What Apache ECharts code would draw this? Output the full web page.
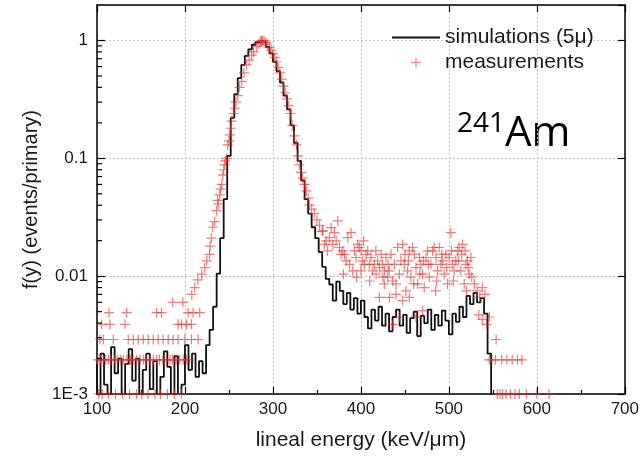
<!DOCTYPE html>
<html>
<head>
<meta charset="utf-8">
<script src="https://cdn.jsdelivr.net/npm/echarts@6/dist/echarts.min.js"></script>
<style>
html,body{margin:0;padding:0;background:#fff;}
#chart{width:642px;height:456px;}
</style>
</head>
<body>
<div id="chart"></div>
<script>
// ---- data ----
const xTicks = [100, 200, 300, 400, 500, 600, 700];
const yTickValues = [0.001, 0.01, 0.1, 1];
const yTickLabels = ['1E-3', '0.01', '0.1', '1'];
const yMinorTicks = [0.002,0.003,0.004,0.005,0.006,0.007,0.008,0.009,
                     0.02,0.03,0.04,0.05,0.06,0.07,0.08,0.09,
                     0.2,0.3,0.4,0.5,0.6,0.7,0.8,0.9];

// simulation histogram (bin start, value)
const simX = [100,104,108,112,116,120,124,128,132,136,140,144,148,152,156,160,164,168,172,176,180,184,188,192,196,200,204,208,212,216,220,
              224,228,232,236,240,244,248,252,256,260,264,268,272,276,280,284,288,292,296,300,304,308,312,316,320,324,328,332,336,340,344,348,352,356,360,364,
              368,372,376,380,384,388,392,396,400,404,408,412,416,420,424,428,432,436,440,444,448,452,456,460,464,468,472,476,480,484,488,492,496,500,504,508,512,516,520,524,528,532,536,540,544,548,552];
const simY = [0.0018,0.0005,0.0022,0.0012,0.0005,0.0025,0.0015,0.002,0.0008,0.0018,0.0024,0.0013,0.002,0.0005,0.0016,0.0022,0.0011,0.0019,0.0005,0.0014,0.0023,0.0017,0.0009,0.0021,0.0005,0.0012,0.0026,0.0016,0.0022,0.0014,0.0019,
              0.0015,0.0026,0.0035,0.0055,0.0105,0.021,0.045,0.105,0.22,0.35,0.48,0.62,0.74,0.84,0.92,0.97,0.99,0.96,0.88,0.78,0.66,0.55,0.44,0.34,0.26,0.19,0.135,0.095,0.065,0.045,0.034,0.026,0.021,0.016,0.012,0.0095,
              0.0085,0.0062,0.009,0.0075,0.0058,0.0072,0.0052,0.0065,0.0048,0.0062,0.0045,0.0036,0.0052,0.0042,0.0055,0.0038,0.0048,0.0034,0.0045,0.0052,0.0038,0.0047,0.0033,0.0044,0.005,0.0031,0.0046,0.004,0.0052,0.0035,0.0047,0.0038,0.0051,0.0042,0.0032,0.0048,0.0041,0.0055,0.0045,0.0068,0.0058,0.0072,0.006,0.0065,0.0048,0.0022,0.0005];

// measurements [x, y]
const measLow = [
  [102,0.001],[106,0.001],[113,0.001],[121,0.001],[129,0.001],[137,0.001],[145,0.001],[151,0.001],[158,0.001],[166,0.001],[172,0.001],[180,0.001],[188,0.001],[196,0.001],
  [101,0.00195],[104,0.00195],[107,0.00195],[110,0.00195],[113,0.00195],[116,0.00195],[120,0.00195],[123,0.00195],[127,0.00195],[130,0.00195],[134,0.00195],[138,0.00195],[141,0.00195],[145,0.00195],[149,0.00195],[153,0.00195],[156,0.00195],[160,0.00195],[164,0.00195],[168,0.00195],[171,0.00195],[175,0.00195],[179,0.00195],[183,0.00195],[186,0.00195],[190,0.00195],[194,0.00195],[198,0.00195],[202,0.00195],[205,0.00195],
  [103.4,0.0029],[107.1,0.0029],[118.5,0.0029],[135.5,0.0029],[141.2,0.0029],[146.8,0.0029],[152.5,0.0029],[158.2,0.0029],[163.9,0.0029],[169.5,0.0029],[175.2,0.0029],[180.9,0.0029],[186.5,0.0029],[192.2,0.0029],[199.8,0.0029],[207.4,0.0029],[214.9,0.0029],
  [105.3,0.0039],[114.7,0.0039],[131.8,0.0039],[192.2,0.0039],[196,0.0039],[201.7,0.0039],[207.4,0.0039],
  [113.6,0.0049],[133.7,0.0049],[167.7,0.0049],[173.4,0.0049],[203.6,0.0049],[209.3,0.0049],[216.8,0.0049],
  [186,0.006],[197.5,0.006]
];
const measPeak = [
  [207.7,0.007],[211,0.008],[214.6,0.0093],[219,0.0104],[222.5,0.0118],[224.8,0.0135],[228,0.0153],[228.5,0.018],[230,0.021],[231.6,0.026],[233.8,0.029],[236,0.036],[237,0.044],[238,0.041],[239.5,0.049],[240.5,0.055],[241.8,0.06],[243,0.072],[244,0.08],[245,0.088],[246,0.095],[247.5,0.1],[248.6,0.13],[250,0.14],[251,0.158],[252,0.18],[253,0.207],[255,0.24],[256.5,0.266],[258,0.3],[260,0.34],[262,0.4],[264.5,0.45],[267,0.53],[270,0.62],[273,0.68],[275.8,0.75],[278,0.8],[281.5,0.89],[284,0.94],[286,0.99],[287,0.98],[288,1.0],[290,0.99],[292,0.96],[294,0.92],[296,0.87],[298,0.82],[300,0.77],[302,0.72],[304,0.66],[306,0.59],[308,0.53],[310,0.47],[312,0.41],[314,0.36],[316,0.32],[318,0.28],[320,0.24],[322,0.19],[324.5,0.155],[326.8,0.13],[328.5,0.105],[330,0.088],[332,0.076],[333.6,0.068],[336,0.06],[338,0.053],[340,0.046],[341.6,0.04],[344,0.037],[347,0.034],[350,0.03],[353,0.027],[356,0.024]
];
const measPlateau = [
  [356.7,0.0242],[360.5,0.0199],[364.3,0.0212],[366.2,0.0258],[369.9,0.0234],[373.7,0.0294],[375.6,0.0175],[377.5,0.0153],[379.4,0.0164],[383.2,0.0135],[385.1,0.0212],[387,0.0126],[388.8,0.0234],[390.7,0.0111],[394.5,0.0144],[396.4,0.0186],[398.3,0.0175],[400.2,0.0164],[402.1,0.0135],[404,0.0126],[405.9,0.0153],[407.7,0.0164],[409.6,0.0126],[413.4,0.0111],[415.3,0.0126],[417.2,0.0104],[419.1,0.0135],[421,0.0118],[424.8,0.0126],[426.6,0.0086],[428.5,0.0144],[430.4,0.0098],[432.3,0.0111],[434.2,0.0153],[436.1,0.0091],[438,0.0126],[439.9,0.0086],[441.8,0.0175],[443.7,0.0104],[447.4,0.0186],[449.3,0.0126],[451.2,0.0075],[453.1,0.0111],[455,0.0164],[456.9,0.0098],[458.8,0.0175],[462.6,0.0118],[464.5,0.0086],[466.4,0.0144],[468.2,0.0126],[470.1,0.0104],[472,0.008],[473.9,0.0144],[475.8,0.0164],[477.7,0.0098],[479.6,0.0126],[481.5,0.0164],[485.3,0.0144],[487.1,0.0111],[489,0.0175],[490.9,0.0126],[492.8,0.0135],[494.7,0.0104],[496.6,0.0153],[498.5,0.0086],[500.4,0.0144],[502.3,0.0234],[504.2,0.0126],[507.9,0.0135],[509.8,0.0164],[511.7,0.0175],[513.6,0.0111],[515.5,0.0186],[517.4,0.0086],[519.3,0.0126],[521.2,0.0135],[523.1,0.0104],
  [421,0.0066],[432.3,0.0066],[439.9,0.007],[447.4,0.0062],[455,0.0066],[462.6,0.0045],[470.1,0.0051],[436.1,0.0039],[443.7,0.0045],
  [358.5,0.0186],[362,0.0164],[368,0.0186],[371.8,0.0199],[381.3,0.0153],[392.6,0.0164],[400,0.0111],[403,0.0199],[411.5,0.0144],[417,0.0164],[423,0.0153],[427,0.0111],[431,0.0126],[445.5,0.0135],[450,0.0153],[454,0.0135],[460.7,0.0153],[467,0.0104],[471,0.0135],[476.7,0.0126],[483.4,0.0175],[486,0.0091],[491.8,0.0153],[497.5,0.0118],[503,0.0164],[506,0.0111],[510.7,0.0135],[514.5,0.0153],[518.4,0.0164],[522,0.0118],[525,0.0144],[380,0.0104],[395,0.0098],[410,0.0091],[425,0.0098],[460,0.0086],[485,0.0075],[505,0.0091],[520,0.0075]
];
const measHigh = [
  [526,0.0098],[529,0.0086],[532,0.0075],[535,0.0066],[538,0.008],[541,0.007],[534,0.0047],[538,0.0043],[543,0.0039],[546,0.0045],[553.7,0.0029],
  [546,0.00195],[549,0.00195],[553,0.00195],[560,0.00195],[566,0.00195],[572,0.00195],[578,0.00195],[583,0.00195],
  [555,0.001],[558,0.001],[561,0.001],[565,0.001],[570,0.001],[575,0.001],[580,0.001],[588,0.001],[600,0.001],[614,0.001]
];

// ---- chart ----
const FONT = 'Liberation Sans';
const TXT = '#1a1a1a';
const chart = echarts.init(document.getElementById('chart'), null, {renderer: 'canvas'});
const simData = simX.map((x, i) => [x, simY[i]]);
const measData = measLow.concat(measPeak, measPlateau, measHigh);
const plusPath = 'path://M4.4,0H5.6V4.4H10V5.6H5.6V10H4.4V5.6H0V4.4H4.4Z';
const linePath = 'path://M0,0H48V1.8H0Z';

function yLabel(v) {
  for (let i = 0; i < yTickValues.length; i++) {
    if (Math.abs(Math.log10(v) - Math.log10(yTickValues[i])) < 1e-6) return yTickLabels[i];
  }
  return '';
}

chart.setOption({
  animation: false,
  backgroundColor: '#fff',
  grid: {left: 97, right: 16, top: 5, bottom: 59, containLabel: false},
  legend: {
    orient: 'vertical', left: 392, top: 27, padding: 0, itemWidth: 48, itemHeight: 10, itemGap: 4,
    symbolKeepAspect: true,
    data: [{name: 'simulations (5μ)', icon: linePath}, {name: 'measurements', icon: plusPath}],
    textStyle: {fontSize: 21, color: TXT, fontFamily: FONT},
    selectedMode: false
  },
  xAxis: [{
    type: 'value', min: 100, max: 700, interval: 100, position: 'bottom',
    name: 'lineal energy (keV/μm)', nameLocation: 'middle', nameGap: 36,
    nameTextStyle: {fontSize: 21, color: TXT, fontFamily: FONT},
    axisLine: {lineStyle: {color: '#000', width: 1.5}},
    axisTick: {inside: true, length: 7, lineStyle: {color: '#000', width: 1.2}},
    minorTick: {show: true, splitNumber: 2, length: 4, lineStyle: {color: '#000', width: 1.2}},
    axisLabel: {fontSize: 17, color: TXT, fontFamily: FONT, margin: 7,
      formatter: v => (xTicks.indexOf(v) >= 0 ? String(v) : '')},
    splitLine: {show: true, lineStyle: {color: '#c4c4c4', type: [2, 2], width: 1}}
  }, {
    type: 'value', min: 100, max: 700, interval: 100, position: 'top',
    axisLine: {lineStyle: {color: '#000', width: 1.5}},
    axisTick: {inside: true, length: 7, lineStyle: {color: '#000', width: 1.2}},
    axisLabel: {show: false}, splitLine: {show: false}
  }],
  yAxis: [{
    type: 'log', logBase: 10, min: 0.001, max: 2, position: 'left',
    name: 'f(y) (events/primary)', nameLocation: 'middle', nameGap: 56,
    nameTextStyle: {fontSize: 20, color: TXT, fontFamily: FONT},
    axisLine: {lineStyle: {color: '#000', width: 1.5}},
    axisTick: {inside: true, length: 8, lineStyle: {color: '#000', width: 1.2}},
    axisLabel: {fontSize: 17, color: TXT, fontFamily: FONT, margin: 9, formatter: yLabel, showMaxLabel: false},
    splitLine: {show: true, lineStyle: {color: '#c4c4c4', type: [2, 2], width: 1}}
  }, {
    type: 'log', logBase: 10, min: 0.001, max: 2, position: 'right',
    axisLine: {lineStyle: {color: '#000', width: 1.5}},
    axisTick: {inside: true, length: 7, lineStyle: {color: '#000', width: 1.2}},
    axisLabel: {show: false}, splitLine: {show: false}
  }],
  graphic: [
    {type: 'text', left: 457, top: 110, style: {text: '241', fontSize: 28, fontFamily: 'Open Sans', fill: '#000'}},
    {type: 'text', left: 505, top: 113, style: {text: 'Am', fontSize: 42, fontFamily: 'Open Sans', fill: '#000'}}
  ],
  series: [{
    name: 'simulations (5μ)', type: 'line', step: 'start', data: simData,
    showSymbol: false, symbol: 'none', clip: true, z: 4,
    lineStyle: {color: '#111', width: 1.8}, itemStyle: {color: '#111'}
  }, {
    name: 'measurements', type: 'scatter', data: measData, clip: false, z: 5,
    symbol: plusPath, symbolSize: 10, symbolKeepAspect: true,
    itemStyle: {color: 'rgba(232,45,45,0.8)'}
  }, {
    type: 'custom', silent: true, z: 6, clip: false,
    data: yMinorTicks.map(v => [100, v]),
    renderItem: function (params, api) {
      const p = api.coord([api.value(0), api.value(1)]);
      return {type: 'line', shape: {x1: p[0], y1: p[1], x2: p[0] + 5, y2: p[1]},
              style: {stroke: '#000', lineWidth: 1.2}};
    }
  }]
});
</script>
</body>
</html>
